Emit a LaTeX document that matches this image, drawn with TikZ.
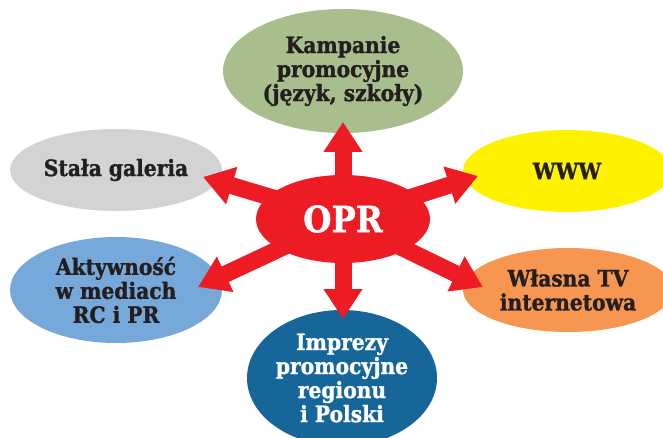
\documentclass[tikz,border=0pt]{standalone}
\usepackage{fontspec}
\setmainfont[BoldFeatures={FakeBold=1.2}]{DejaVu Serif Condensed}
\usetikzlibrary{shapes.geometric,arrows.meta}
\usepackage{xcolor}
\definecolor{oprred}{HTML}{ED1C24}
\definecolor{kampgreen}{HTML}{A9BE8D}
\definecolor{galgray}{HTML}{D1D3D4}
\definecolor{wwwyellow}{HTML}{FFF200}
\definecolor{tvorange}{HTML}{F79650}
\definecolor{imprblue}{HTML}{16669A}
\definecolor{mediablue}{HTML}{76A8DA}
\definecolor{txtdark}{HTML}{231F20}
\pgfdeclarelayer{front}
\pgfsetlayers{main,front}

\begin{document}
\begin{tikzpicture}[x=1pt, y=-1pt,
    bubble/.style={ellipse, inner sep=0pt, align=center, font=\bfseries\fontsize{22.5}{24}\selectfont, text=txtdark},
    spoke/.style={draw=oprred, line width=17pt, -{Triangle[length=30pt,width=37pt]}}
]
    \useasboundingbox (0,0) rectangle (663,438);

    \node[bubble, fill=kampgreen, minimum width=240pt, minimum height=124pt] (kamp) at (343,71) {Kampanie\\promocyjne\\(język, szkoły)};
    \node[bubble, fill=galgray, minimum width=212pt, minimum height=82pt] (gal) at (116,170) {Stała galeria};
    \node[bubble, fill=wwwyellow, minimum width=208pt, minimum height=82pt] (www) at (567,171) {WWW};
    \node[bubble, fill=mediablue, minimum width=212pt, minimum height=106pt] (media) at (116,290) {Aktywność\\w mediach\\RC i PR};
    \node[bubble, fill=tvorange, minimum width=210pt, minimum height=84pt] (tv) at (568,290) {Własna TV\\internetowa};
    \node[bubble, fill=imprblue, text=white, minimum width=190pt, minimum height=136pt] (impr) at (342,378) {Imprezy\\promocyjne\\regionu\\i Polski};
    \begin{pgfonlayer}{front}
    \node[ellipse, fill=oprred, inner sep=0pt, minimum width=174pt, minimum height=88pt, text=white, font=\bfseries\fontsize{36}{40}\selectfont] (opr) at (343,219) {OPR};
    \end{pgfonlayer}

    \coordinate (kampTip) at (343,122);
    \coordinate (galTip) at (203,177);
    \coordinate (wwwTip) at (478,176);
    \coordinate (mediaTip) at (198,287);
    \coordinate (tvTip) at (483,287);
    \coordinate (imprTip) at (343,319);

    \draw[spoke] (opr.center) -- (kampTip);
    \draw[spoke] (opr.center) -- (galTip);
    \draw[spoke] (opr.center) -- (wwwTip);
    \draw[spoke] (opr.center) -- (mediaTip);
    \draw[spoke] (opr.center) -- (tvTip);
    \draw[spoke] (opr.center) -- (imprTip);
\end{tikzpicture}
\end{document}
